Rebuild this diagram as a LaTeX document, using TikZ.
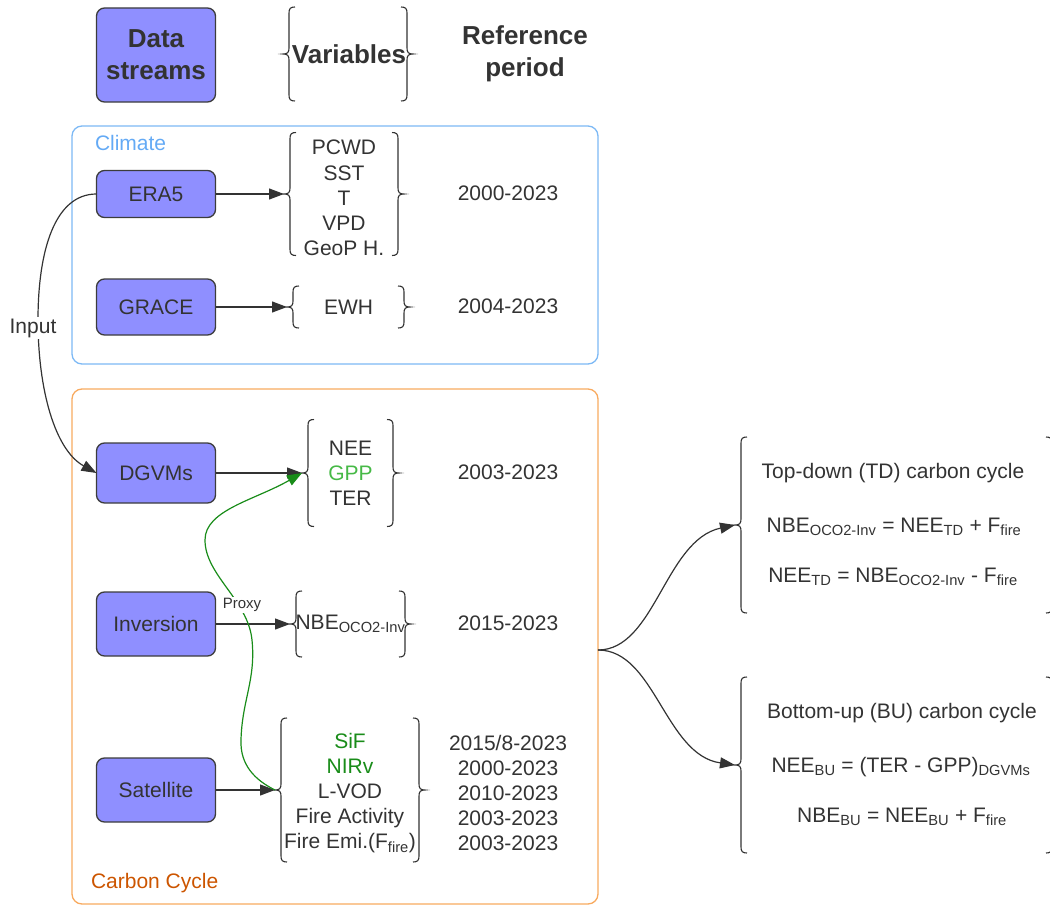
\documentclass[tikz,border=0pt]{standalone}
\usepackage{fontspec}
\setmainfont{Liberation Sans}
\usetikzlibrary{arrows.meta,calc}
\definecolor{txt}{RGB}{51,51,51}
\definecolor{boxfill}{RGB}{143,143,255}
\definecolor{boxline}{RGB}{60,60,60}
\definecolor{climline}{RGB}{125,185,245}
\definecolor{climtxt}{RGB}{100,170,245}
\definecolor{carbline}{RGB}{248,170,95}
\definecolor{carbtxt}{RGB}{204,85,0}
\definecolor{gpp}{RGB}{70,185,70}
\definecolor{dgreen}{RGB}{25,140,25}
\newcommand\sbs[1]{\textsubscript{#1}}
\newcommand\bracepair[1]{%
\draw[brc] ($(#1.north west)+(12,0)$) .. controls +(-4.5,0) and +(0,-4.5) .. ++(-6,6)
 -- ($(#1.west)+(6,-6)$) .. controls +(0,4.5) and +(4.5,0) .. (#1.west)
 .. controls +(4.5,0) and +(0,-4.5) .. ++(6,6)
 -- ($(#1.south west)+(6,-6)$) .. controls +(0,4.5) and +(-4.5,0) .. ++(6,6);
\draw[brc] ($(#1.north east)+(-12,0)$) .. controls +(4.5,0) and +(0,-4.5) .. ++(6,6)
 -- ($(#1.east)+(-6,-6)$) .. controls +(0,4.5) and +(-4.5,0) .. (#1.east)
 .. controls +(-4.5,0) and +(0,-4.5) .. ++(-6,6)
 -- ($(#1.south east)+(-6,-6)$) .. controls +(0,4.5) and +(4.5,0) .. ++(-6,6);}
\begin{document}
\begin{tikzpicture}[x=1pt,y=-1pt,
  font=\fontsize{21}{25}\selectfont, text=txt,
  every node/.style={inner sep=0pt, outer sep=0pt},
  dsbox/.style={draw=boxline, fill=boxfill, line width=1.3pt, rounded corners=8pt, minimum width=119pt},
  grp/.style={rounded corners=10pt, line width=1.3pt},
  brc/.style={draw=txt, line width=1.1pt},
  vbox/.style={align=center, font=\fontsize{21}{25.2}\selectfont},
  hdr/.style={font=\bfseries\fontsize{26}{32}\selectfont, align=center},
  arr/.style={-{Triangle[length=15pt,width=11pt]}, line width=1.2pt, draw=txt},
  garr/.style={-{Triangle[length=15pt,width=11pt]}, line width=1.2pt, draw=dgreen},
  eq/.style={font=\fontsize{21}{25}\selectfont}
]
\useasboundingbox (0,0) rectangle (1050,907);

% header
\node[dsbox, hdr, minimum height=94pt] (ds) at (156,55) {Data\\streams};
\node[minimum width=130pt, minimum height=94pt] (vh) at (348,54) {};
\bracepair{vh}
\node[hdr] (vhtxt) at (349,54) {Variables};
\node[hdr] (rp) at (525,54) {Reference\\period};

% group boxes
\node[grp, draw=climline, minimum width=526pt, minimum height=238pt] (clim) at (335,245) {};
\node[text=climtxt, anchor=west] (climlbl) at (95,143) {Climate};
\node[grp, draw=carbline, minimum width=526pt, minimum height=515pt] (carb) at (335,646.5) {};
\node[text=carbtxt, anchor=west] (carblbl) at (91,883) {Carbon Cycle};

% data streams
\node[dsbox, minimum height=47pt] (era5) at (156,194) {ERA5};
\node[dsbox, minimum height=56pt] (grace) at (156,307) {GRACE};
\node[dsbox, minimum height=60pt] (dgvms) at (156,473) {DGVMs};
\node[dsbox, minimum height=64pt] (inv) at (156,624) {Inversion};
\node[dsbox, minimum height=64pt] (sat) at (156,790) {Satellite};

% variables
\node[minimum width=120pt, minimum height=123pt] (vera) at (344,194) {};
\bracepair{vera}
\node[vbox] (veratxt) at (344,198) {PCWD\\SST\\T\\VPD\\GeoP H.};
\node[vbox, minimum width=123pt, minimum height=42pt] (vgr) at (348.5,307) {EWH};
\bracepair{vgr}
\node[vbox, minimum width=97pt, minimum height=107pt] (vdg) at (350.5,473) {NEE\\\textcolor{gpp}{GPP}\\TER};
\bracepair{vdg}
\node[vbox, minimum width=121pt, minimum height=66pt] (vinv) at (350.5,624) {NBE\sbs{OCO2-Inv}};
\bracepair{vinv}
\node[minimum width=150pt, minimum height=144pt] (vsat) at (350,790) {};
\bracepair{vsat}
\node[vbox] (vsattxt) at (350,793) {\textcolor{dgreen}{SiF}\\\textcolor{dgreen}{NIRv}\\L-VOD\\Fire Activity\\Fire Emi.(F\sbs{fire})};

% reference periods
\node (d1) at (508,193) {2000-2023};
\node (d2) at (508,306) {2004-2023};
\node (d3) at (508,472) {2003-2023};
\node (d4) at (508,623) {2015-2023};
\node[vbox] (d5) at (508,793) {2015/8-2023\\2000-2023\\2010-2023\\2003-2023\\2003-2023};

% arrows
\draw[arr] (era5.east) -- (vera.west);
\draw[arr] (grace.east) -- (vgr.west);
\draw[arr] (dgvms.east) -- (vdg.west);
\draw[arr] (inv.east) -- (vinv.west);
\draw[arr] (sat.east) -- (vsat.west);

\draw[arr] (era5.west) .. controls (55,194) and (38,250) .. (38,320)
  .. controls (38,390) and (55,450) .. (dgvms.west);
\node[fill=white, inner sep=2pt] (inlbl) at (33,328) {Input};

\draw[garr] (vsat.west) .. controls (255,780) and (240,765) .. (241,740)
  .. controls (242,700) and (256,680) .. (252,640)
  .. controls (248,600) and (205,575) .. (205,540)
  .. controls (205,510) and (255,500) .. (vdg.west);
\node[fill=white, inner sep=1.5pt, font=\fontsize{15}{18}\selectfont] (proxy) at (242,605) {Proxy};

% right side
\node[minimum width=323pt, minimum height=176pt] (tdb) at (896.5,525) {};
\bracepair{tdb}
\node[eq] (td1) at (893,473) {Top-down (TD) carbon cycle};
\node[eq] (td2) at (894,527) {NBE\sbs{OCO2-Inv} = NEE\sbs{TD} + F\sbs{fire}};
\node[eq] (td3) at (893,577) {NEE\sbs{TD} = NBE\sbs{OCO2-Inv} - F\sbs{fire}};

\node[minimum width=323pt, minimum height=176pt] (bub) at (896.5,765) {};
\bracepair{bub}
\node[eq] (bu1) at (902,713) {Bottom-up (BU) carbon cycle};
\node[eq] (bu2) at (901,767) {NEE\sbs{BU} = (TER - GPP)\sbs{DGVMs}};
\node[eq] (bu3) at (902,817) {NBE\sbs{BU} = NEE\sbs{BU} + F\sbs{fire}};

\coordinate (fork) at (598,650);
\draw[arr] (fork) .. controls (655,650) and (665,540) .. (tdb.west);
\draw[arr] (fork) .. controls (655,650) and (665,755) .. (bub.west);
\end{tikzpicture}
\end{document}
